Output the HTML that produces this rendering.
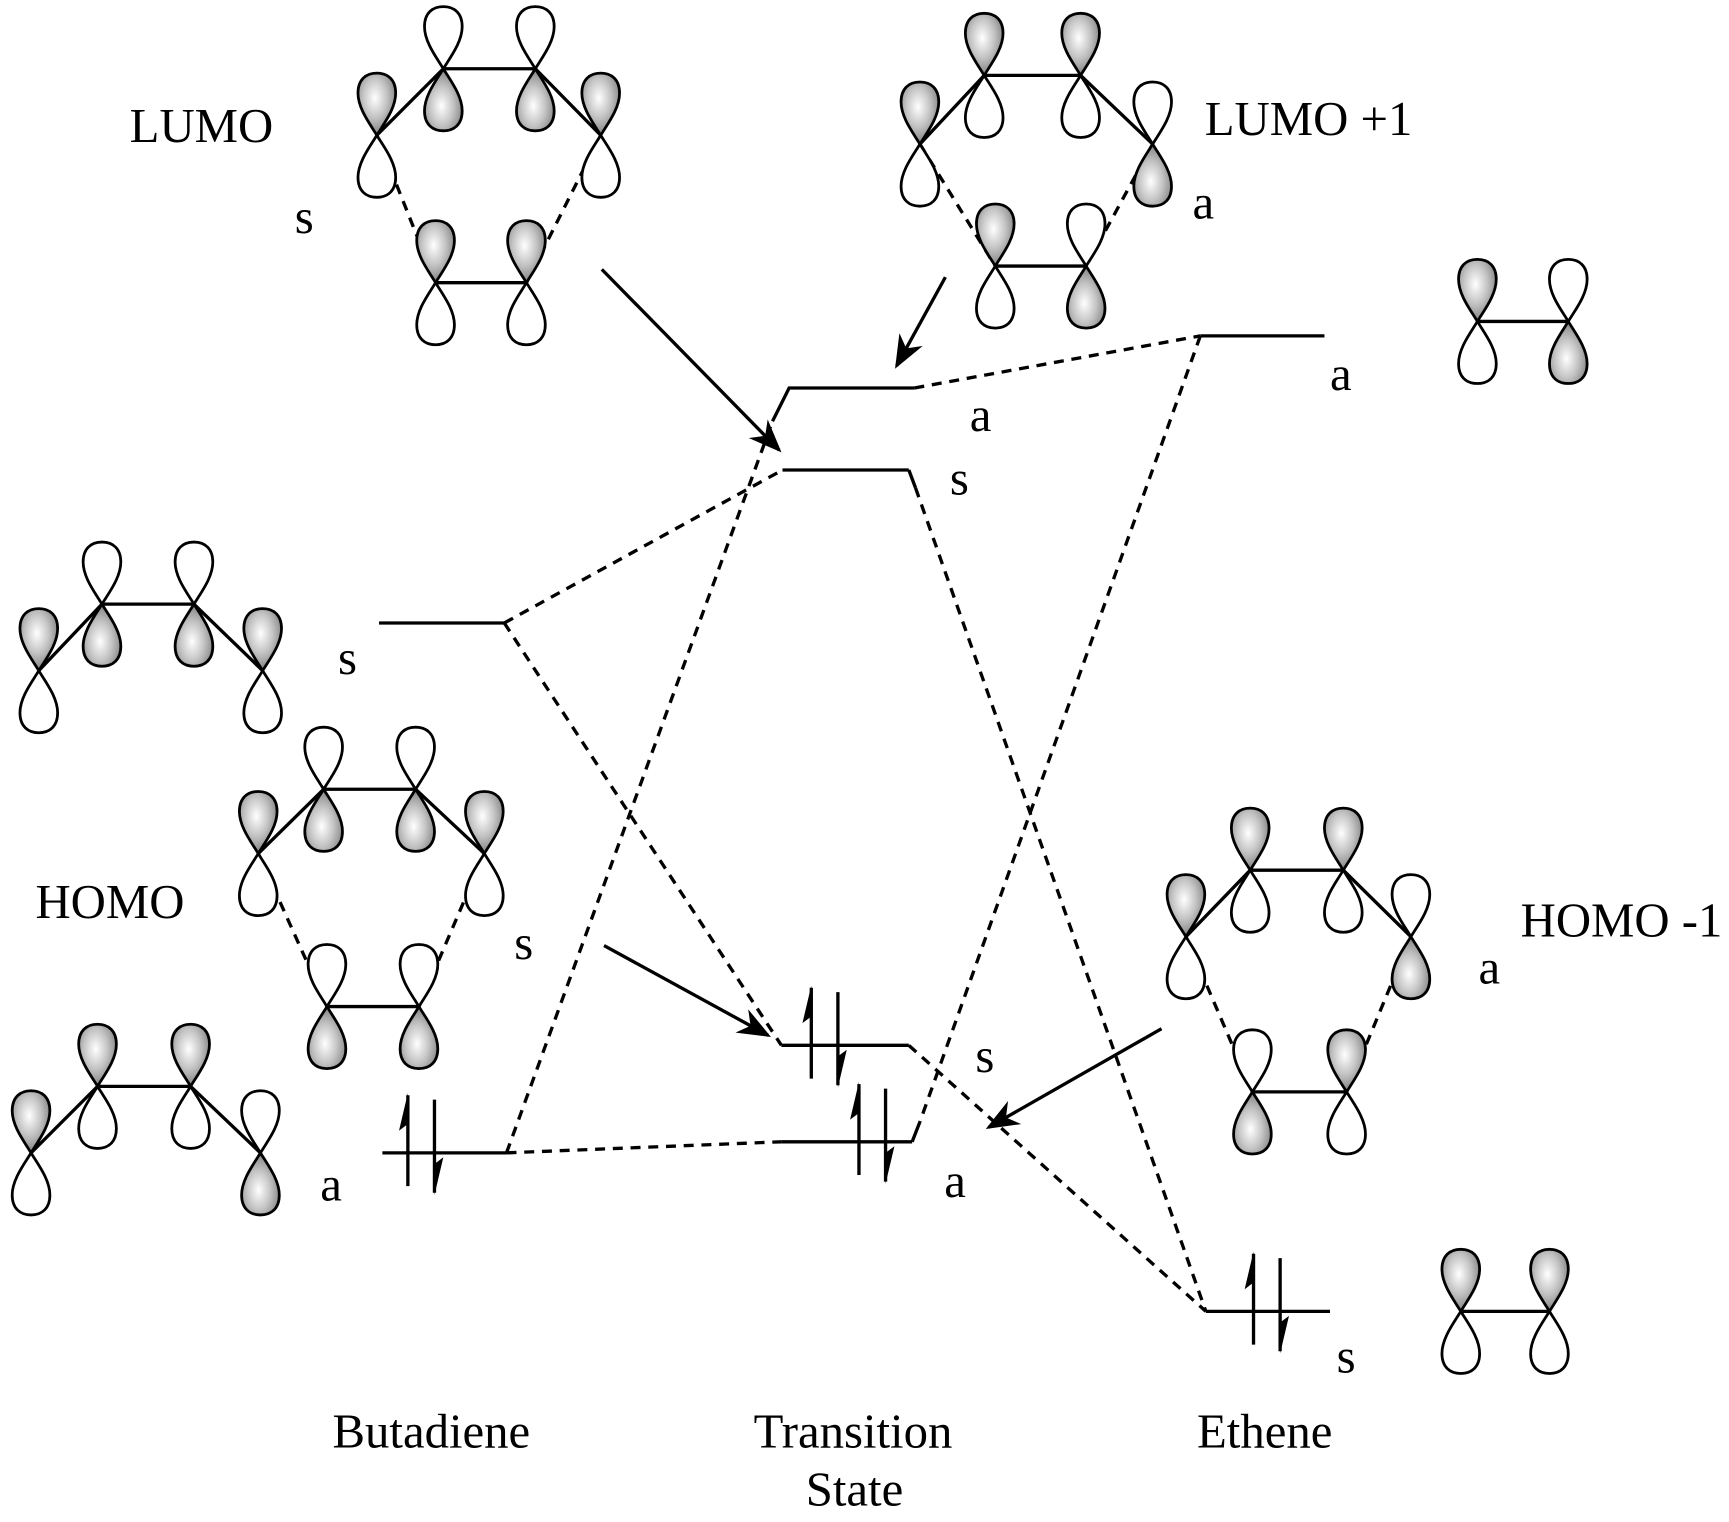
<!DOCTYPE html>
<html><head><meta charset="utf-8"><style>
html,body{margin:0;padding:0;background:#fff;}
svg{display:block;}
text{font-family:"Liberation Serif",serif;font-size:44px;fill:#000;}
</style></head><body>
<svg width="1729" height="1522" viewBox="0 0 1560 1373" preserveAspectRatio="none" xmlns="http://www.w3.org/2000/svg">
<defs>
<radialGradient id="g" cx="0.45" cy="0.4" r="0.7">
<stop offset="0" stop-color="#ffffff"/><stop offset="0.45" stop-color="#c4c4c4"/><stop offset="1" stop-color="#6a6a6a"/>
</radialGradient>
<path id="L" d="M0,0 C-6,-10 -17,-24 -17,-38 C-17,-50 -10,-56 0,-56 C10,-56 17,-50 17,-38 C17,-24 6,-10 0,0 Z" stroke="#000" stroke-width="2.5"/>
<g id="E">
<line x1="0" y1="30" x2="0" y2="-52" stroke="#000" stroke-width="3"/>
<polygon points="0,-54 -8,-20 0,-26" fill="#000"/>
<line x1="24" y1="-48" x2="24" y2="36" stroke="#000" stroke-width="3"/>
<polygon points="24,38 32,4 24,10" fill="#000"/>
</g>
<marker id="ah" markerWidth="10" markerHeight="8" refX="9" refY="4" orient="auto" markerUnits="strokeWidth">
<polygon points="0,0 10,4 0,8 3,4" fill="#000"/>
</marker>
</defs>

<g stroke="#000" stroke-width="3" fill="none">
<polyline points="340,122 400,62 483,62 542,122"/>
<line x1="393" y1="255" x2="475" y2="255"/>
<line x1="340" y1="122" x2="393" y2="255" stroke-dasharray="9,7"/>
<line x1="542" y1="122" x2="475" y2="255" stroke-dasharray="9,7"/>
<polyline points="830,130 888,68 975,68 1040,130"/>
<line x1="898" y1="240" x2="980" y2="240"/>
<line x1="830" y1="130" x2="898" y2="240" stroke-dasharray="9,7"/>
<line x1="1040" y1="130" x2="980" y2="240" stroke-dasharray="9,7"/>
<line x1="1333" y1="290" x2="1415" y2="290"/>
<polyline points="35,605 92,545 175,545 237,605"/>
<polyline points="233,770 292,712 375,712 437,770"/>
<line x1="295" y1="908" x2="378" y2="908"/>
<line x1="233" y1="770" x2="295" y2="908" stroke-dasharray="9,7"/>
<line x1="437" y1="770" x2="378" y2="908" stroke-dasharray="9,7"/>
<polyline points="28,1040 88,980 172,980 235,1040"/>
<polyline points="1070,845 1128,785 1212,785 1273,845"/>
<line x1="1130" y1="985" x2="1215" y2="985"/>
<line x1="1070" y1="845" x2="1130" y2="985" stroke-dasharray="9,7"/>
<line x1="1273" y1="845" x2="1215" y2="985" stroke-dasharray="9,7"/>
<line x1="1318" y1="1183" x2="1398" y2="1183"/>

<line x1="342" y1="562" x2="455" y2="562"/>
<line x1="345" y1="1040" x2="457" y2="1040"/>
<polyline points="697,380 712,350 825,350"/>
<line x1="706" y1="424" x2="820" y2="424"/>
<polyline points="820,424 826,440" />
<line x1="705" y1="943" x2="820" y2="943"/>
<line x1="705" y1="1030" x2="823" y2="1030"/>
<polyline points="823,1030 830,1012"/>
<line x1="1083" y1="303" x2="1195" y2="303"/>
<line x1="1088" y1="1183" x2="1200" y2="1183"/>
</g>

<g stroke="#000" stroke-width="3" fill="none" stroke-dasharray="9,7">
<line x1="455" y1="562" x2="706" y2="424"/>
<line x1="455" y1="562" x2="705" y2="943"/>
<line x1="457" y1="1040" x2="705" y2="1030"/>
<line x1="457" y1="1040" x2="697" y2="380"/>
<line x1="825" y1="350" x2="1083" y2="303"/>
<line x1="1083" y1="303" x2="830" y2="1012"/>
<line x1="826" y1="440" x2="1088" y2="1183"/>
<line x1="820" y1="943" x2="1088" y2="1183"/>
</g>

<g stroke="#000" stroke-width="3" fill="none" marker-end="url(#ah)">
<line x1="543" y1="243" x2="703" y2="406"/>
<line x1="853" y1="250" x2="809" y2="330"/>
<line x1="545" y1="853" x2="693" y2="934"/>
<line x1="1048" y1="928" x2="892" y2="1017"/>
</g>

<use href="#E" x="368" y="1040"/>
<use href="#E" x="732" y="943"/>
<use href="#E" x="775" y="1030"/>
<use href="#E" x="1131" y="1183"/>

<g>
<use href="#L" transform="translate(400,62)" fill="#fff"/>
<use href="#L" transform="translate(400,62) scale(1,-1)" fill="url(#g)"/>
<use href="#L" transform="translate(483,62)" fill="#fff"/>
<use href="#L" transform="translate(483,62) scale(1,-1)" fill="url(#g)"/>
<use href="#L" transform="translate(340,122)" fill="url(#g)"/>
<use href="#L" transform="translate(340,122) scale(1,-1)" fill="#fff"/>
<use href="#L" transform="translate(542,122)" fill="url(#g)"/>
<use href="#L" transform="translate(542,122) scale(1,-1)" fill="#fff"/>
<use href="#L" transform="translate(393,255)" fill="url(#g)"/>
<use href="#L" transform="translate(393,255) scale(1,-1)" fill="#fff"/>
<use href="#L" transform="translate(475,255)" fill="url(#g)"/>
<use href="#L" transform="translate(475,255) scale(1,-1)" fill="#fff"/>
<use href="#L" transform="translate(888,68)" fill="url(#g)"/>
<use href="#L" transform="translate(888,68) scale(1,-1)" fill="#fff"/>
<use href="#L" transform="translate(975,68)" fill="url(#g)"/>
<use href="#L" transform="translate(975,68) scale(1,-1)" fill="#fff"/>
<use href="#L" transform="translate(830,130)" fill="url(#g)"/>
<use href="#L" transform="translate(830,130) scale(1,-1)" fill="#fff"/>
<use href="#L" transform="translate(1040,130)" fill="#fff"/>
<use href="#L" transform="translate(1040,130) scale(1,-1)" fill="url(#g)"/>
<use href="#L" transform="translate(898,240)" fill="url(#g)"/>
<use href="#L" transform="translate(898,240) scale(1,-1)" fill="#fff"/>
<use href="#L" transform="translate(980,240)" fill="#fff"/>
<use href="#L" transform="translate(980,240) scale(1,-1)" fill="url(#g)"/>
<use href="#L" transform="translate(1333,290)" fill="url(#g)"/>
<use href="#L" transform="translate(1333,290) scale(1,-1)" fill="#fff"/>
<use href="#L" transform="translate(1415,290)" fill="#fff"/>
<use href="#L" transform="translate(1415,290) scale(1,-1)" fill="url(#g)"/>
<use href="#L" transform="translate(35,605)" fill="url(#g)"/>
<use href="#L" transform="translate(35,605) scale(1,-1)" fill="#fff"/>
<use href="#L" transform="translate(92,545)" fill="#fff"/>
<use href="#L" transform="translate(92,545) scale(1,-1)" fill="url(#g)"/>
<use href="#L" transform="translate(175,545)" fill="#fff"/>
<use href="#L" transform="translate(175,545) scale(1,-1)" fill="url(#g)"/>
<use href="#L" transform="translate(237,605)" fill="url(#g)"/>
<use href="#L" transform="translate(237,605) scale(1,-1)" fill="#fff"/>
<use href="#L" transform="translate(233,770)" fill="url(#g)"/>
<use href="#L" transform="translate(233,770) scale(1,-1)" fill="#fff"/>
<use href="#L" transform="translate(292,712)" fill="#fff"/>
<use href="#L" transform="translate(292,712) scale(1,-1)" fill="url(#g)"/>
<use href="#L" transform="translate(375,712)" fill="#fff"/>
<use href="#L" transform="translate(375,712) scale(1,-1)" fill="url(#g)"/>
<use href="#L" transform="translate(437,770)" fill="url(#g)"/>
<use href="#L" transform="translate(437,770) scale(1,-1)" fill="#fff"/>
<use href="#L" transform="translate(295,908)" fill="#fff"/>
<use href="#L" transform="translate(295,908) scale(1,-1)" fill="url(#g)"/>
<use href="#L" transform="translate(378,908)" fill="#fff"/>
<use href="#L" transform="translate(378,908) scale(1,-1)" fill="url(#g)"/>
<use href="#L" transform="translate(28,1040)" fill="url(#g)"/>
<use href="#L" transform="translate(28,1040) scale(1,-1)" fill="#fff"/>
<use href="#L" transform="translate(88,980)" fill="url(#g)"/>
<use href="#L" transform="translate(88,980) scale(1,-1)" fill="#fff"/>
<use href="#L" transform="translate(172,980)" fill="url(#g)"/>
<use href="#L" transform="translate(172,980) scale(1,-1)" fill="#fff"/>
<use href="#L" transform="translate(235,1040)" fill="#fff"/>
<use href="#L" transform="translate(235,1040) scale(1,-1)" fill="url(#g)"/>
<use href="#L" transform="translate(1070,845)" fill="url(#g)"/>
<use href="#L" transform="translate(1070,845) scale(1,-1)" fill="#fff"/>
<use href="#L" transform="translate(1128,785)" fill="url(#g)"/>
<use href="#L" transform="translate(1128,785) scale(1,-1)" fill="#fff"/>
<use href="#L" transform="translate(1212,785)" fill="url(#g)"/>
<use href="#L" transform="translate(1212,785) scale(1,-1)" fill="#fff"/>
<use href="#L" transform="translate(1273,845)" fill="#fff"/>
<use href="#L" transform="translate(1273,845) scale(1,-1)" fill="url(#g)"/>
<use href="#L" transform="translate(1130,985)" fill="#fff"/>
<use href="#L" transform="translate(1130,985) scale(1,-1)" fill="url(#g)"/>
<use href="#L" transform="translate(1215,985)" fill="url(#g)"/>
<use href="#L" transform="translate(1215,985) scale(1,-1)" fill="#fff"/>
<use href="#L" transform="translate(1318,1183)" fill="url(#g)"/>
<use href="#L" transform="translate(1318,1183) scale(1,-1)" fill="#fff"/>
<use href="#L" transform="translate(1398,1183)" fill="url(#g)"/>
<use href="#L" transform="translate(1398,1183) scale(1,-1)" fill="#fff"/>
</g>

<text x="117" y="128">LUMO</text>
<text x="266" y="210">s</text>
<text x="1087" y="122">LUMO +1</text>
<text x="1076" y="197">a</text>
<text x="1200" y="352">a</text>
<text x="875" y="389">a</text>
<text x="857" y="446">s</text>
<text x="305" y="608">s</text>
<text x="32" y="828">HOMO</text>
<text x="464" y="865">s</text>
<text x="1372" y="845">HOMO -1</text>
<text x="1334" y="887">a</text>
<text x="880" y="967">s</text>
<text x="289" y="1083">a</text>
<text x="852" y="1080">a</text>
<text x="1206" y="1238">s</text>
<text x="300" y="1306">Butadiene</text>
<text x="680" y="1306">Transition</text>
<text x="727" y="1358">State</text>
<text x="1080" y="1306">Ethene</text>
</svg>
</body></html>
